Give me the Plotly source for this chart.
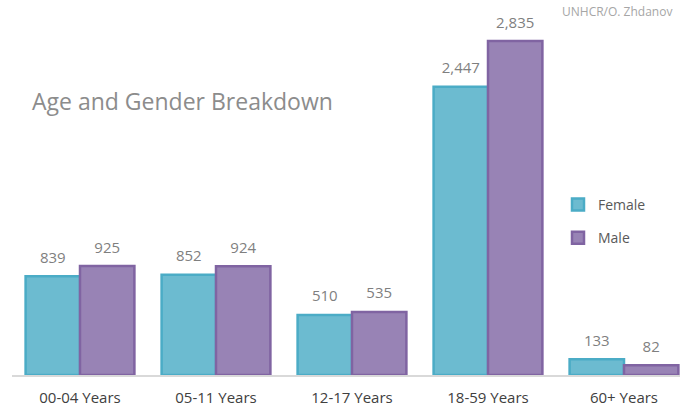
import plotly.graph_objects as go

categories = ["00-04 Years", "05-11 Years", "12-17 Years", "18-59 Years", "60+ Years"]
female = [839, 852, 510, 2447, 133]
male = [925, 924, 535, 2835, 82]

FONT = "Open Sans"
LABEL_FONT = dict(color="#7F7F7F", size=15, family=FONT)

fig = go.Figure()
fig.add_trace(go.Bar(
    x=categories, y=female, name="Female", legendgroup="f", offsetgroup="f",
    marker=dict(color="#6CBBD0", line=dict(color="#4BACC6", width=2.5)),
))
fig.add_trace(go.Bar(
    x=categories, y=male, name="Male", legendgroup="m", offsetgroup="m",
    marker=dict(color="#9883B5", line=dict(color="#8064A2", width=2.5)),
))
# data labels, aligned with the grouped bars
for vals, grp in ((female, "f"), (male, "m")):
    fig.add_trace(go.Scatter(
        x=categories, y=vals, offsetgroup=grp, mode="markers+text",
        marker=dict(size=14, color="rgba(0,0,0,0)"),
        text=[f"{v:,}" for v in vals], textposition="top center",
        textfont=LABEL_FONT, showlegend=False, hoverinfo="skip", cliponaxis=False,
    ))

L, R, T, B = 12, 0, 10, 32
W, H = 680, 407
PH = H - T - B


def py(pixel):
    return 1 - (pixel - T) / PH


def px(pixel):
    return (pixel - L) / (W - L - R)


fig.update_layout(
    width=W, height=H,
    margin=dict(l=L, r=R, t=T, b=B),
    paper_bgcolor="white", plot_bgcolor="white",
    barmode="group", bargap=0.2, bargroupgap=0,
    scattermode="group", scattergap=0.2,
    font=dict(family=FONT, color="#404040", size=14),
    showlegend=True,
    legend=dict(x=px(558), y=py(189), xanchor="left", yanchor="top",
                font=dict(size=14, color="#595959"), tracegroupgap=12, bgcolor="rgba(0,0,0,0)"),
    xaxis=dict(range=[-0.5, 4.5 - 12 / 136], showline=True, linecolor="#D9D9D9", linewidth=1.5,
               ticks="", showgrid=False, tickfont=dict(size=15, color="#404040"),
               ticklabelstandoff=8),
    yaxis=dict(range=[0, 365 / 0.1178], visible=False, showgrid=False),
    annotations=[
        dict(text="Age and Gender Breakdown", xref="paper", yref="paper", x=px(30),
             y=py(101), xanchor="left", yanchor="middle", showarrow=False,
             font=dict(size=23, color="#8C8C8C", family=FONT)),
        dict(text="UNHCR/O. Zhdanov", xref="paper", yref="paper", x=1, y=py(12),
             xanchor="right", yanchor="middle", showarrow=False, xshift=-6,
             font=dict(size=12, color="#A6A6A6", family=FONT)),
    ],
)
fig.write_html("out.html", config={"displayModeBar": False},
               post_script="document.body.style.margin='0';")
